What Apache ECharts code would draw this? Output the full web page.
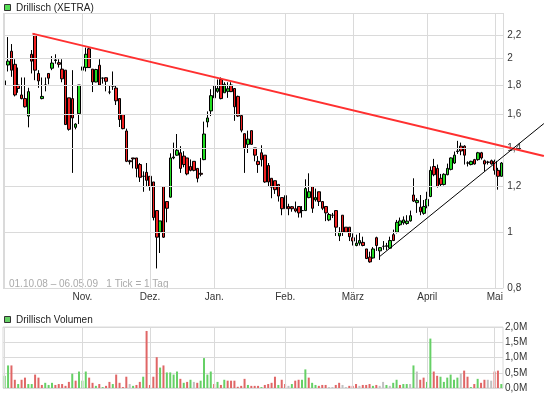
<!DOCTYPE html>
<html><head><meta charset="utf-8">
<script src="https://cdn.jsdelivr.net/npm/echarts@6/dist/echarts.min.js"></script>
<style>html,body{margin:0;padding:0;background:#fff}#c{width:545px;height:395px}</style>
</head><body><div id="c"></div>
<script>
// ---- data (trading days 01.10.08 - 06.05.09) ----
const holidays = ['2008-12-24','2008-12-25','2008-12-26','2008-12-31','2009-01-01','2009-04-10','2009-04-13','2009-05-01'];
const monthNames = {1:'Jan.',2:'Feb.',3:'März',4:'April',5:'Mai',11:'Nov.',12:'Dez.'};

const openP = [1.80,1.95,2.06,1.955,1.80,1.73,1.705,1.59,2.035,2.20,
1.885,1.705,1.80,1.885,1.925,1.985,1.968,1.918,1.91,1.71,
1.705,1.52,1.605,1.91,1.93,2.08,1.918,1.822,1.948,1.85,
1.853,1.75,1.793,1.778,1.705,1.60,1.498,1.33,1.345,1.345,
1.31,1.25,1.27,1.25,1.222,1.09,1.00,1.20,1.13,1.15,
1.345,1.36,1.373,1.355,1.345,1.30,1.327,1.29,1.265,1.336,
1.553,1.623,1.793,1.755,1.84,1.745,1.755,1.80,1.775,1.72,
1.593,1.482,1.42,1.50,1.40,1.327,1.373,1.36,1.305,1.24,
1.228,1.21,1.148,1.157,1.108,1.107,1.098,1.108,1.09,1.09,
1.148,1.20,1.138,1.175,1.13,1.108,1.05,1.07,1.09,0.985,
1.07,1.02,1.02,0.978,0.948,0.957,0.96,0.935,0.905,0.902,
0.978,0.928,0.945,0.945,0.938,0.99,1.00,1.03,1.038,1.035,
1.046,1.16,1.125,1.105,1.078,1.11,1.153,1.30,1.29,1.24,
1.21,1.258,1.285,1.318,1.38,1.41,1.41,1.318,1.31,1.336,
1.336,1.373,1.33,1.323,1.33,1.327,1.28,1.25];
const highP = [1.89,2.18,2.12,1.995,1.93,1.855,1.855,1.78,2.07,2.21,
1.91,1.855,1.855,1.885,2.02,2.035,1.995,1.995,1.91,1.71,
1.91,1.545,1.80,1.975,2.09,2.09,1.918,1.92,1.995,1.855,
1.855,1.793,1.90,1.80,1.705,1.60,1.512,1.335,1.345,1.345,
1.318,1.275,1.318,1.25,1.222,1.09,1.046,1.20,1.13,1.37,
1.43,1.48,1.41,1.382,1.345,1.337,1.327,1.29,1.345,1.555,
1.62,1.77,1.825,1.84,1.855,1.82,1.82,1.82,1.775,1.725,
1.60,1.482,1.50,1.50,1.40,1.355,1.415,1.36,1.318,1.24,
1.228,1.21,1.148,1.157,1.12,1.11,1.13,1.108,1.11,1.235,
1.265,1.20,1.19,1.175,1.13,1.108,1.08,1.08,1.09,1.02,
1.07,1.02,1.02,0.995,0.99,1.00,0.982,0.935,0.925,0.942,
0.982,0.942,0.965,0.958,0.982,1.01,1.05,1.06,1.065,1.07,
1.09,1.24,1.145,1.16,1.137,1.175,1.30,1.34,1.31,1.262,
1.265,1.315,1.348,1.38,1.44,1.43,1.415,1.327,1.33,1.34,
1.378,1.378,1.336,1.33,1.336,1.336,1.293,1.323];
const lowP = [1.78,1.90,1.86,1.72,1.745,1.70,1.645,1.52,1.885,1.835,
1.78,1.70,1.755,1.805,1.91,1.96,1.93,1.82,1.535,1.50,
1.267,1.508,1.54,1.85,1.90,1.93,1.75,1.82,1.80,1.81,
1.755,1.735,1.765,1.662,1.522,1.508,1.323,1.31,1.29,1.245,
1.222,1.175,1.20,1.18,1.048,0.865,0.92,0.977,1.04,1.148,
1.338,1.357,1.267,1.296,1.255,1.275,1.275,1.22,1.25,1.333,
1.52,1.59,1.70,1.745,1.70,1.745,1.71,1.75,1.56,1.585,
1.49,1.267,1.372,1.418,1.327,1.267,1.30,1.218,1.20,1.145,
1.165,1.13,1.07,1.06,1.07,1.085,1.082,1.06,1.06,1.088,
1.145,1.08,1.13,1.11,1.092,1.045,1.045,1.058,0.985,0.965,
0.985,0.997,0.965,0.948,0.945,0.948,0.945,0.898,0.885,0.90,
0.928,0.895,0.932,0.93,0.935,0.965,0.995,1.025,1.03,1.03,
1.043,1.128,1.08,1.07,1.072,1.10,1.15,1.25,1.195,1.20,
1.205,1.255,1.28,1.313,1.367,1.36,1.31,1.30,1.306,1.31,
1.33,1.336,1.275,1.31,1.31,1.258,1.185,1.248];
const closeP = [1.83,1.98,1.91,1.73,1.775,1.705,1.65,1.753,1.98,1.91,
1.83,1.72,1.80,1.85,1.965,1.99,1.955,1.845,1.537,1.508,
1.578,1.54,1.80,1.935,2.035,1.93,1.822,1.915,1.80,1.85,
1.827,1.75,1.793,1.69,1.568,1.512,1.327,1.325,1.34,1.29,
1.245,1.25,1.23,1.20,1.06,0.98,1.046,0.98,1.10,1.345,
1.35,1.387,1.29,1.31,1.262,1.28,1.28,1.24,1.26,1.48,
1.578,1.725,1.71,1.775,1.705,1.805,1.773,1.753,1.65,1.59,
1.503,1.40,1.45,1.42,1.36,1.31,1.336,1.222,1.222,1.197,
1.185,1.155,1.098,1.098,1.098,1.098,1.088,1.08,1.09,1.19,
1.175,1.10,1.148,1.13,1.10,1.08,1.073,1.07,1.02,1.00,
1.00,1.00,0.982,0.965,0.957,0.967,0.948,0.90,0.888,0.935,
0.948,0.94,0.945,0.947,0.967,0.967,1.04,1.046,1.05,1.045,
1.068,1.132,1.135,1.085,1.108,1.14,1.28,1.258,1.20,1.21,
1.26,1.29,1.345,1.36,1.383,1.383,1.36,1.318,1.327,1.313,
1.373,1.345,1.313,1.322,1.313,1.28,1.25,1.318];
// volume in millions
const volume = [0.40,0.74,0.74,0.27,0.13,0.27,0.34,0.13,0.13,0.44,
0.34,0.10,0.17,0.10,0.17,0.10,0.13,0.13,0.07,0.20,
0.47,0.24,0.54,0.24,0.54,0.34,0.17,0.07,0.13,0.03,
0.07,0.20,0.13,0.44,0.17,0.03,0.37,0.13,0.07,0.10,
0.20,0.37,1.87,0.10,0.37,1.01,0.67,0.74,0.51,0.51,
0.44,0.54,0.30,0.17,0.20,0.27,0.20,0.17,0.24,0.98,
0.44,0.54,0.13,0.20,0.10,0.27,0.24,0.24,0.24,0.04,
0.07,0.30,0.10,0.07,0.07,0.07,0.03,0.10,0.13,0.17,
0.37,0.10,0.27,0.13,0.07,0.13,0.24,0.27,0.27,0.61,
0.34,0.17,0.10,0.07,0.10,0.10,0.03,0.03,0.10,0.17,
0.10,0.03,0.07,0.07,0.13,0.07,0.10,0.10,0.13,0.07,
0.10,0.07,0.20,0.10,0.07,0.17,0.27,0.10,0.13,0.13,
0.13,0.74,0.54,0.27,0.34,0.20,1.62,0.54,0.40,0.37,
0.20,0.34,0.44,0.27,0.34,0.47,0.57,0.37,0.03,0.13,
0.30,0.17,0.27,0.27,0.24,0.54,0.57,0.13];
// 1 = up, -1 = down, 0 = unchanged
const volDir = [1,1,-1,-1,1,-1,-1,1,1,-1,
-1,-1,1,1,1,-1,-1,-1,-1,-1,
1,-1,1,1,1,-1,-1,1,-1,1,
-1,-1,1,-1,-1,-1,-1,0,1,-1,
-1,1,-1,-1,-1,-1,1,-1,1,1,
1,1,-1,1,-1,1,0,-1,1,1,
1,1,-1,1,-1,1,-1,-1,-1,-1,
-1,-1,1,-1,-1,-1,1,-1,-1,-1,
-1,1,-1,-1,0,1,-1,-1,1,1,
-1,1,1,-1,-1,-1,0,0,-1,-1,
0,0,-1,-1,-1,0,-1,-1,-1,1,
-1,0,0,1,0,1,1,-1,1,1,
0,1,0,-1,-1,1,1,-1,-1,1,
1,1,1,1,1,0,-1,-1,1,-1,
1,-1,-1,0,0,-1,-1,1];
const priceTicks = [0.8,1,1.2,1.4,1.6,1.8,2,2.2];
const priceMin = 0.8, priceMax = 2.4;
// trend lines: [day index, price]; they run on past the last day
const redTrend = [[8.2,2.21],[159.5,1.355]];
const blackTrend = [[110.8,0.906],[159.5,1.543]];
const extraDays = 12; // empty room right of the last day, where the trend lines end

// ---- build ----
const categories = [];
for (let d = Date.UTC(2008,9,1); d <= Date.UTC(2009,4,6); d += 86400000) {
  const dt = new Date(d), wd = dt.getUTCDay(), s = dt.toISOString().slice(0,10);
  if (wd !== 0 && wd !== 6 && !holidays.includes(s)) categories.push(s);
}
const N = categories.length;
const priceCats = categories.concat(Array(extraDays).fill(''));
const monthStarts = categories.map((c,i)=> (i===0 || c.slice(5,7)!==categories[i-1].slice(5,7)) ? i : -1).filter(i=>i>=0);
const candles = categories.map((_,i)=>[openP[i], closeP[i], lowP[i], highP[i]]);
const volColors = {'1':'#66d066','-1':'#e06666','0':'#c0c0c0'};
const FONT = "'Liberation Sans', Arial, sans-serif";
const GRID = '#dadada';
const fmt = v => String(v).replace('.', ',');
const L = -0.5, R = N - 0.5;
const seg = (a, b, extra) => [Object.assign({coord:a}, extra||{}), Object.assign({coord:b}, extra||{})];
const lbl = v => ({label:{show:true, position:'end', formatter:fmt(v), color:'#333', fontSize:10, fontFamily:FONT, distance:4}});

const priceLines = [
  ...priceTicks.map(v => seg([L, v], [R, v], lbl(v))),
  seg([L, priceMax], [R, priceMax]),
  seg([L, priceMin], [L, priceMax]),
  seg([R, priceMin], [R, priceMax]),
  ...monthStarts.map(i => seg([i, priceMin], [i, priceMax]))
];

const chart = echarts.init(document.getElementById('c'), null, {renderer:'canvas'});
chart.setOption({
  animation:false,
  backgroundColor:'#fff',
  textStyle:{fontFamily:FONT},
  grid:[
    {left:3, right:545 - 3 - (N + extraDays) * (500.3 / N), top:13, bottom:107, show:false},
    {left:3, right:42, top:327, bottom:7, show:true, borderColor:GRID, borderWidth:1}
  ],
  xAxis:[
    {type:'category', gridIndex:0, data:priceCats, boundaryGap:true,
     axisLine:{show:false}, axisTick:{show:false}, splitLine:{show:false},
     axisLabel:{interval:(i)=> i>0 && monthStarts.includes(i),
       formatter:(v)=> v ? (monthNames[+v.slice(5,7)] || '') : '', color:'#333', fontSize:10, fontFamily:FONT, margin:4}},
    {type:'value', gridIndex:0, min:-0.5, max:N + extraDays - 0.5, show:false},
    {type:'category', gridIndex:1, data:categories, boundaryGap:true,
     axisLine:{show:false}, axisTick:{show:false}, axisLabel:{show:false}, splitLine:{show:false}}
  ],
  yAxis:[
    {type:'log', gridIndex:0, min:priceMin, max:priceMax, axisLine:{show:false}, axisTick:{show:false},
     axisLabel:{show:false}, splitLine:{show:false}},
    {type:'value', gridIndex:1, position:'right', min:0, max:2, interval:0.5,
     axisLine:{show:false}, axisTick:{show:false},
     splitLine:{lineStyle:{color:GRID, width:1}},
     axisLabel:{formatter:v=> v.toFixed(1).replace('.',',')+'M', color:'#333', fontSize:10, fontFamily:FONT, margin:2}}
  ],
  series:[
    {type:'line', xAxisIndex:1, yAxisIndex:0, data:[], z:1, silent:true,
     markLine:{symbol:['none','none'], silent:true, animation:false,
       lineStyle:{color:GRID, type:'solid', width:1},
       label:{show:false},
       data: priceLines}},
    {type:'candlestick', xAxisIndex:0, yAxisIndex:0, data:candles, barWidth:3, z:3,
     itemStyle:{color:'#22dd22', color0:'#f02020', borderColor:'#000', borderColor0:'#000', borderColorDoji:'#000', borderWidth:1}},
    {type:'line', xAxisIndex:1, yAxisIndex:0, data:redTrend, clip:false, symbol:'none', z:5, silent:true,
     lineStyle:{color:'#ff3030', width:2}},
    {type:'line', xAxisIndex:1, yAxisIndex:0, data:blackTrend, clip:false, symbol:'none', z:5, silent:true,
     lineStyle:{color:'#000', width:1}},
    {type:'line', xAxisIndex:2, yAxisIndex:1, data:[], z:1, silent:true,
     markLine:{symbol:['none','none'], silent:true, animation:false,
       lineStyle:{color:GRID, type:'solid', width:1}, label:{show:false},
       data: monthStarts.map(i=>({xAxis:i}))}},
    {type:'bar', xAxisIndex:2, yAxisIndex:1, barWidth:2, z:3,
     data: volume.map((v,i)=>({value:v, itemStyle:{color:volColors[String(volDir[i])]}}))}
  ],
  graphic:[
    {type:'rect', shape:{x:4.5, y:4.5, width:6, height:6}, style:{fill:'#55dd55', stroke:'#333', lineWidth:1}},
    {type:'text', x:16, y:8, style:{text:'Drillisch (XETRA)', font:'10px '+FONT, fill:'#222', verticalAlign:'middle'}},
    {type:'rect', shape:{x:4.5, y:316.5, width:6, height:6}, style:{fill:'#66d066', stroke:'#333', lineWidth:1}},
    {type:'text', x:16, y:320, style:{text:'Drillisch Volumen', font:'10px '+FONT, fill:'#222', verticalAlign:'middle'}},
    {type:'text', x:9, y:284, style:{text:'01.10.08 – 06.05.09   1 Tick = 1 Tag', font:'10px '+FONT, fill:'#aaa', verticalAlign:'middle'}}
  ]
});
</script></body></html>
